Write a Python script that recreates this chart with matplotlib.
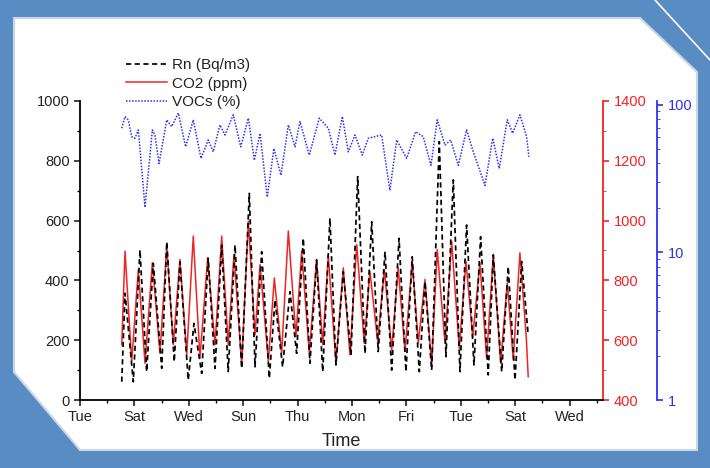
import numpy as np
import matplotlib
matplotlib.use('Agg')
from matplotlib import pyplot as plt
from matplotlib.patches import Polygon
from matplotlib.lines import Line2D
from matplotlib.ticker import MultipleLocator, FixedLocator, FixedFormatter, NullFormatter

plt.rcParams['font.family'] = ['Liberation Sans', 'DejaVu Sans']

# time in days after the first "Tue" tick
rn_days = [3.07, 3.31, 3.92, 4.41, 4.90, 5.39, 6.01, 6.38, 6.93, 7.35, 7.96, 8.38,
           8.95, 9.43, 9.93, 10.42, 10.90, 11.40, 11.89, 12.45, 12.87, 13.36, 13.92,
           14.34, 14.90, 15.44, 15.93, 16.42, 16.91, 17.40, 17.85, 18.38, 18.82, 19.36,
           19.93, 20.42, 20.96, 21.45, 21.93, 22.43, 22.92, 23.46, 23.97, 24.43, 24.95,
           25.37, 25.86, 26.42, 26.91, 27.45, 27.94, 28.43, 28.97, 29.46, 30.02, 30.39,
           31.01, 31.49, 31.99, 32.48, 32.96]
rn_vals = [61, 357, 61, 502, 95, 457, 106, 529, 128, 462, 67, 256,
           89, 474, 106, 518, 95, 518, 106, 691, 111, 496, 73,
           334, 111, 362, 156, 541, 123, 468, 95, 608, 117, 429,
           150, 747, 156, 596, 162, 496, 100, 541, 95, 479, 95,
           396, 100, 864, 145, 736, 95, 585, 117, 546, 84, 485,
           95, 446, 67, 463, 217]

co2_days = [3.07, 3.31, 3.80, 4.29, 4.78, 5.32, 5.88, 6.38, 6.86, 7.35, 7.85, 8.33,
            8.82, 9.39, 9.93, 10.42, 10.90, 11.32, 11.89, 12.38, 12.87, 13.24, 13.85,
            14.29, 14.83, 15.32, 15.88, 16.30, 16.86, 17.40, 17.85, 18.26, 18.82, 19.36,
            19.85, 20.35, 20.90, 21.32, 21.89, 22.38, 22.92, 23.40, 23.90, 24.43, 24.88,
            25.37, 25.86, 26.27, 26.84, 27.33, 27.89, 28.38, 28.88, 29.41, 29.90, 30.39,
            30.93, 31.42, 31.86, 32.35, 32.82, 32.96]
co2_vals = [585, 898, 529, 836, 523, 859, 557, 914, 585, 870, 551, 948,
            540, 876, 585, 948, 585, 887, 517, 998, 618, 853, 529,
            808, 557, 965, 612, 898, 557, 870, 585, 883, 523, 842,
            551, 920, 590, 831, 596, 836, 568, 842, 562, 864, 590,
            803, 517, 903, 590, 931, 573, 864, 612, 859, 540, 887,
            523, 792, 534, 892, 608, 478]

voc_days = [3.07, 3.31, 3.55, 3.80, 4.04, 4.29, 4.78, 5.32, 5.51, 5.81, 6.38, 6.74,
            7.23, 7.77, 8.33, 8.90, 9.43, 9.80, 10.29, 10.66, 11.27, 11.82, 12.38,
            12.82, 13.24, 13.77, 14.26, 14.78, 15.32, 15.81, 16.18, 16.86, 17.60,
            18.26, 18.75, 19.29, 19.73, 20.22, 20.76, 21.20, 22.18, 22.79, 23.29,
            24.02, 24.68, 25.24, 25.81, 26.27, 26.84, 27.26, 27.82, 28.43, 28.92,
            29.78, 30.35, 30.83, 31.42, 31.82, 32.35, 32.84, 33.01]
voc_vals = [69.3, 83.2, 79.0, 60.8, 59.3, 67.5, 20.2, 67.5, 62.4, 40.0, 79.0, 71.1,
            87.8, 51.9, 79.0, 43.3, 57.7, 48.0, 73.0, 62.4, 85.5, 51.9, 81.1,
            42.1, 64.1, 23.7, 50.6, 33.3, 73.0, 51.9, 76.9, 45.6, 81.1,
            69.3, 45.6, 83.2, 48.0, 62.4, 45.6, 59.3, 62.4, 26.3, 57.7,
            43.3, 65.7, 60.8, 38.9, 79.0, 53.3, 57.7, 38.9, 67.5, 48.0,
            28.4, 59.3, 37.0, 79.0, 64.1, 85.5, 60.8, 44.4]

day_labels = ['Tue', 'Sat', 'Wed', 'Sun', 'Thu', 'Mon', 'Fri', 'Tue', 'Sat', 'Wed']

RED = '#f02424'
BLUE = '#3030f0'
W, H = 710, 468

fig = plt.figure(figsize=(7.1, 4.68), dpi=100)
fig.patch.set_facecolor('#5a8cc4')

# white slide panel behind the chart
panel = [(14, 18), (640, 18), (697, 72), (697, 450), (80, 450), (14, 372)]
fig.patches.append(Polygon([(x / W, 1 - y / H) for x, y in panel], closed=True,
                           transform=fig.transFigure, facecolor='white',
                           edgecolor='#c9d6e6', lw=1.5, zorder=-2))
fig.lines.append(Line2D([655 / W, 710 / W], [1.0, 1 - 60 / H], transform=fig.transFigure,
                        color='white', lw=1.2, zorder=-1))

ax = fig.add_axes([80 / W, 1 - 400 / H, 523 / W, 299 / H])
ax.set_facecolor('none')
ax2 = ax.twinx()
ax3 = ax.twinx()

l1, = ax.plot(rn_days, rn_vals, color='black', lw=1.25, ls=(0, (3, 2)), zorder=3)
l2, = ax2.plot(co2_days, co2_vals, color=RED, lw=1.1)
l3, = ax3.plot(voc_days, voc_vals, color=BLUE, lw=1.1, ls=(0, (1, 1)))
ax.set_zorder(3)
ax2.set_zorder(2)
ax3.set_zorder(1)

ax.set_xlim(0, 38.46)
ax.set_ylim(0, 1000)
ax.xaxis.set_major_locator(FixedLocator(np.arange(0, 37, 4)))
ax.xaxis.set_major_formatter(FixedFormatter(day_labels))
ax.xaxis.set_minor_locator(MultipleLocator(2))
ax.yaxis.set_major_locator(MultipleLocator(200))
ax.yaxis.set_minor_locator(MultipleLocator(100))
ax.set_xlabel('Time', fontsize=13, color='#222222', labelpad=6)
for s in ['top', 'right']:
    ax.spines[s].set_visible(False)
ax.tick_params(which='major', length=4, width=1.2, labelsize=10.5, colors='#222222')
ax.tick_params(which='minor', length=2.5, width=1.0)
ax.spines['left'].set_linewidth(1.3)
ax.spines['bottom'].set_linewidth(1.3)

ax2.set_ylim(400, 1400)
ax2.yaxis.set_major_locator(MultipleLocator(200))
ax2.yaxis.set_minor_locator(MultipleLocator(100))
for s in ['top', 'left', 'bottom']:
    ax2.spines[s].set_visible(False)
ax2.spines['right'].set_color(RED)
ax2.spines['right'].set_linewidth(1.3)
ax2.tick_params(axis='y', which='both', colors=RED, labelsize=10.5)
ax2.tick_params(which='major', length=4, width=1.2)
ax2.tick_params(which='minor', length=2.5)

ax3.set_yscale('log')
ax3.set_ylim(1, 106)
ax3.spines['right'].set_position(('outward', 39))
for s in ['top', 'left', 'bottom']:
    ax3.spines[s].set_visible(False)
ax3.spines['right'].set_color(BLUE)
ax3.spines['right'].set_linewidth(1.3)
ax3.yaxis.set_major_locator(FixedLocator([1, 10, 100]))
ax3.yaxis.set_major_formatter(FixedFormatter(['1', '10', '100']))
ax3.yaxis.set_minor_formatter(NullFormatter())
ax3.tick_params(axis='y', which='both', colors=BLUE, labelsize=10.5)
ax3.tick_params(which='major', length=4, width=1.2)
ax3.tick_params(which='minor', length=2.5)

fig.legend([l1, l2, l3], ['Rn (Bq/m3)', 'CO2 (ppm)', 'VOCs (%)'],
           loc='upper left', bbox_to_anchor=(120 / W, 1 - 52 / H), frameon=False,
           fontsize=11, handlelength=2.7, labelspacing=0.3, handletextpad=0.3,
           borderaxespad=0, labelcolor='#222222')

fig.savefig('out.png', dpi=100, facecolor=fig.get_facecolor())
